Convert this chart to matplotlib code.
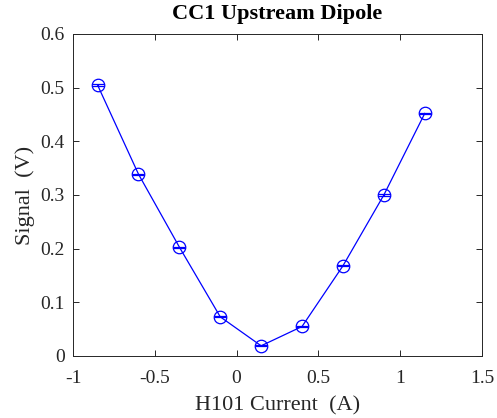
import matplotlib
matplotlib.use("Agg")
import matplotlib.pyplot as plt

current = [-0.85, -0.60, -0.35, -0.10, 0.15, 0.40, 0.65, 0.90, 1.15]
signal = [0.505, 0.339, 0.203, 0.073, 0.019, 0.055, 0.168, 0.300, 0.452]
err = [0.001] * 9
xticks = [-1, -0.5, 0, 0.5, 1, 1.5]
xticklabels = ["-1", "-0.5", "0", "0.5", "1", "1.5"]
yticks = [0, 0.1, 0.2, 0.3, 0.4, 0.5, 0.6]
yticklabels = ["0", "0.1", "0.2", "0.3", "0.4", "0.5", "0.6"]

plt.rcParams['font.family'] = ['Liberation Serif', 'DejaVu Serif']
fig = plt.figure(figsize=(4.97, 4.18), dpi=100)
ax = fig.add_axes([73/497, 1-356/418, (482-73)/497, (356-34)/418])
ax.errorbar(current, signal, yerr=err, color='#0000ff', lw=0.9, marker='o',
            ms=9, mfc='none', mec='#0000ff', mew=0.9, capsize=4.5, elinewidth=0.9,
            capthick=0.9)
ax.set_xlim(-1, 1.5)
ax.set_ylim(0, 0.6)
ax.set_xticks(xticks)
ax.set_xticklabels(xticklabels)
ax.set_yticks(yticks)
ax.set_yticklabels(yticklabels)
ax.tick_params(direction='in', length=4, labelsize=14, top=True, right=True,
               width=0.7, colors='#262626')
ax.tick_params(axis='x', pad=10)
ax.tick_params(axis='y', pad=6)
for s in ax.spines.values():
    s.set_linewidth(0.7)
    s.set_color('#262626')
ax.set_xlabel('H101 Current  (A)', fontsize=16, color='#262626', labelpad=7)
ax.set_ylabel('Signal  (V)', fontsize=16, color='#262626', labelpad=4)
ax.set_title('CC1 Upstream Dipole', fontsize=16, fontweight='bold', pad=11)
fig.savefig('out.png', dpi=100)
